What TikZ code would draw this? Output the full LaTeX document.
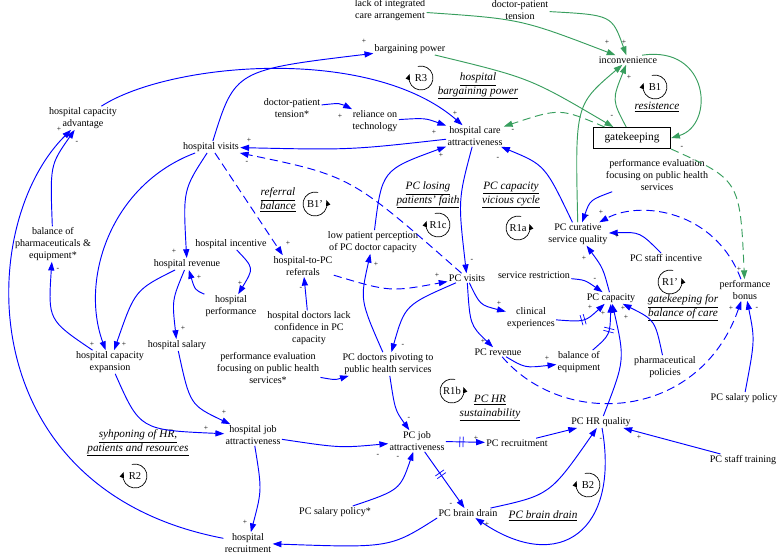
\documentclass[tikz,border=0pt]{standalone}
\usepackage{fontspec}
\setmainfont{Liberation Serif}
\usetikzlibrary{arrows.meta,decorations.markings}
\definecolor{cldblue}{RGB}{0,0,255}
\definecolor{cldgreen}{RGB}{56,158,94}
\tikzset{
  var/.style={align=center, inner sep=1pt, font=\fontsize{8.6}{10}\selectfont},
  ttl/.style={align=center, inner sep=1pt, font=\fontsize{9.6}{11.5}\selectfont\itshape},
  sgn/.style={inner sep=0pt, font=\fontsize{6.5}{7}\selectfont},
  lpnm/.style={inner sep=0pt, font=\fontsize{9}{10}\selectfont},
  lparr/.style={line width=0.6pt, -{Triangle[length=5pt,width=3.6pt]}},
  bl/.style={draw=cldblue, line width=0.8pt, -{Triangle[length=7.5pt,width=5.2pt]}},
  gr/.style={bl, draw=cldgreen},
  dsh/.style={dash pattern=on 7pt off 4pt},
  dly/.style={postaction={decorate, decoration={markings, mark=at position #1 with {\draw[cldblue, line width=0.6pt, solid, -] (-1.4pt,-4.5pt) -- (-1.4pt,4.5pt) (1.4pt,-4.5pt) -- (1.4pt,4.5pt);}}}},
  gkbox/.style={draw, line width=0.8pt, minimum width=66pt, minimum height=18pt, inner sep=2pt, font=\fontsize{9.7}{11}\selectfont}
}
\begin{document}
\begin{tikzpicture}[x=0.03cm, y=-0.03cm]
  \useasboundingbox (0,0) rectangle (778,556);

  % variables
  \node[var] (lack) at (390,10) {lack of integrated\\care arrangement};
  \node[var] (dpt) at (520,10) {doctor-patient\\tension};
  \node[var] (inc) at (628,60) {inconvenience};
  \node[gkbox] (gk) at (632,138) {gatekeeping};
  \node[var] (pef) at (657,175) {performance evaluation\\focusing on public health\\services};
  \node[var] (bp) at (410,49) {bargaining power};
  \node[var] (dpt2) at (292,108) {doctor-patient\\tension*};
  \node[var] (rel) at (375,121) {reliance on\\technology};
  \node[var] (hca) at (475,136) {hospital care\\attractiveness};
  \node[var] (hcadv) at (83,118) {hospital capacity\\advantage};
  \node[var] (hv) at (211,147) {hospital visits};
  \node[var] (bpe) at (53,244) {balance of\\pharmaceuticals \&\\equipment*};
  \node[var] (hrev) at (187,264) {hospital revenue};
  \node[var] (hinc) at (231,244) {hospital incentive};
  \node[var] (hperf) at (231,306) {hospital\\performance};
  \node[var] (hsal) at (177,345) {hospital salary};
  \node[var] (hexp) at (110,362) {hospital capacity\\expansion};
  \node[var] (ref) at (303,266) {hospital-to-PC\\referrals};
  \node[var] (lpp) at (373,242) {low patient perception\\of PC doctor capacity};
  \node[var] (pcv) at (467,278) {PC visits};
  \node[var] (hdl) at (309,328) {hospital doctors lack\\confidence in PC\\capacity};
  \node[var] (piv) at (388,364) {PC doctors pivoting to\\public health services};
  \node[var] (cur) at (578,234) {PC curative\\service quality};
  \node[var] (sinc) at (666,258) {PC staff incentive};
  \node[var] (sres) at (534,275) {service restriction};
  \node[var] (cap) at (611,298) {PC capacity};
  \node[var] (clin) at (531,318) {clinical\\experiences};
  \node[var] (prev) at (498,352) {PC revenue};
  \node[var] (beq) at (579,362) {balance of\\equipment};
  \node[var] (pharm) at (665,367) {pharmaceutical\\policies};
  \node[var] (bonus) at (745,290) {performance\\bonus};
  \node[var] (psal) at (744,398) {PC salary policy};
  \node[var] (hrq) at (601,422) {PC HR quality};
  \node[var] (train) at (743,460) {PC staff training};
  \node[var] (bd) at (468,513) {PC brain drain};
  \node[var] (psal2) at (335,512) {PC salary policy*};
  \node[var] (job) at (417,441) {PC job\\attractiveness};
  \node[var] (rec) at (517,443) {PC recruitment};
  \node[var] (pef2) at (268,368) {performance evaluation\\focusing on public health\\services*};
  \node[var] (hjob) at (253,435) {hospital job\\attractiveness};
  \node[var] (hrec) at (248,543) {hospital\\recruitment};

  % loop names
  \node[ttl] (tbp) at (478,86) {\underline{hospital}\\\underline{bargaining power}};
  \node[ttl] (tres) at (657,107) {\underline{resistence}};
  \node[ttl] (tref) at (278,200) {\underline{referral}\\\underline{balance}};
  \node[ttl] (tfaith) at (428,195) {\underline{PC losing}\\\underline{patients' faith}};
  \node[ttl] (tvic) at (511,195) {\underline{PC capacity}\\\underline{vicious cycle}};
  \node[ttl] (tgbc) at (683,308) {\underline{gatekeeping for}\\\underline{balance of care}};
  \node[ttl] (thr) at (490,408) {\underline{PC HR}\\\underline{sustainability}};
  \node[ttl] (tsyph) at (138,443) {\underline{syhponing of HR,}\\\underline{patients and resources}};
  \node[ttl] (tbd) at (543,516) {\underline{PC brain drain}};

  % loop markers
  \foreach \nm/\x/\y/\t/\a/\b in {R3/421/78/R3/-105/200, B1/655/87/B1/-105/200,
      B1p/315/204/B1'/-75/-380, R1c/438/225/R1c/-105/200, R1a/518/228/R1a/-75/-380,
      R1p/670/282/R1'/-75/-380, R1b/452/391/R1b/-75/-380, B2/588/485/B2/-105/200,
      R2/135/476/R2/-105/200} {
    \node[lpnm] (l\nm) at (\x,\y) {\t};
    \draw[lparr] ([shift={(\a:12)}]l\nm.center) arc[start angle=\a, end angle=\b, radius=12];
  }

  % green links
  \draw[gr] (lack) .. controls (521,19) .. (inc);
  \draw[gr] (dpt) .. controls (612,15) .. (inc);
  \draw[gr] (bp) .. controls (530,78) .. (gk);
  \draw[gr] (gk) .. controls (612,100) .. (inc);
  \draw[gr] (cur) .. controls (575,105) .. (inc);
  \draw[gr] ([xshift=12pt]inc.north) .. controls (710,45) and (715,125) .. (gk.east);
  \draw[gr, dsh] ([xshift=10pt]gk.north west) .. controls (560,108) .. (hca);
  \draw[gr, dsh] (gk.south east) .. controls (740,180) .. (bonus);

  % blue links
  \draw[bl] (hcadv) .. controls (170,62) and (370,45) .. (hca);
  \draw[bl] (hv) .. controls (235,70) .. (bp);
  \draw[bl] (dpt2) .. controls (340,103) .. (rel);
  \draw[bl] (rel) .. controls (425,118) .. (hca);
  \draw[bl] (hca) .. controls (350,150) .. (hv);
  \draw[bl, dsh] (pcv) .. controls (351,176) .. (hv);
  \draw[bl] (hca) .. controls (458,200) .. (pcv);
  \draw[bl] (hv) .. controls (183,190) .. (hrev);
  \draw[bl] (hv) .. controls (110,185) and (80,280) .. (hexp);
  \draw[bl] (hrev) .. controls (135,290) .. (hexp);
  \draw[bl] (hexp) .. controls (48,320) .. (bpe);
  \draw[bl] (bpe) .. controls (50,165) .. (hcadv);
  \draw[bl] (hrec) .. controls (-30,490) and (-25,225) .. (hcadv);
  \draw[bl] (hinc) .. controls (254,268) .. (hperf);
  \draw[bl] (hperf) .. controls (195,290) .. (hrev);
  \draw[bl] (hrev) .. controls (172,300) .. (hsal);
  \draw[bl] (hsal) .. controls (190,405) .. (hjob);
  \draw[bl] (hexp) .. controls (140,430) .. (hjob);
  \draw[bl] (hjob) .. controls (262,490) .. (hrec);
  \draw[bl] (hjob) .. controls (340,448) .. (job);
  \draw[bl] (bd.south west) .. controls (390,548) .. (hrec);
  \draw[bl] (psal2) .. controls (400,490) .. (job);
  \draw[bl] (piv) .. controls (395,410) .. (job);
  \draw[bl] (pef2) .. controls (335,380) .. (piv);
  \draw[bl, dly=0.4] (job) -- (rec);
  \draw[bl, dly=0.4] (job) -- (bd);
  \draw[bl] (rec) -- (hrq);
  \draw[bl] (bd) .. controls (550,495) .. (hrq);
  \draw[bl] (hrq) .. controls (620,530) and (560,575) .. (bd);
  \draw[bl] (train) -- (hrq);
  \draw[bl] (hrq) .. controls (625,360) .. (cap);
  \draw[bl, dly=0.5] (clin) .. controls (585,322) .. (cap);
  \draw[bl, dly=0.5] (beq) .. controls (610,335) .. (cap);
  \draw[bl] (pharm) .. controls (655,320) .. (cap);
  \draw[bl] (sres) .. controls (585,280) .. (cap);
  \draw[bl] (cap) .. controls (603,268) .. (cur);
  \draw[bl] (sinc) .. controls (640,232) .. (cur);
  \draw[bl] (pef) .. controls (590,200) .. (cur);
  \draw[bl, dsh] (bonus) .. controls (715,210) and (640,200) .. (cur);
  \draw[bl] (cur) .. controls (545,165) .. (hca);
  \draw[bl] (pcv) .. controls (405,305) .. (piv);
  \draw[bl] (piv) .. controls (360,300) .. (lpp);
  \draw[bl] (lpp) .. controls (382,170) .. (hca);
  \draw[bl, dsh] (hv) -- ([xshift=9pt]ref.north west);
  \draw[bl, dsh] (ref) .. controls (390,292) .. (pcv);
  \draw[bl] (hdl) -- (ref);
  \draw[bl] (pcv) .. controls (480,305) .. (clin);
  \draw[bl] (pcv) .. controls (470,325) .. (prev);
  \draw[bl] (prev) .. controls (525,368) .. (beq);
  \draw[bl, dsh] (prev) .. controls (565,430) and (700,420) .. (bonus);
  \draw[bl] (psal) .. controls (755,340) .. (bonus);

  % polarities
  \foreach \x/\y/\s [count=\i] in {607/42/+, 624/42/+, 612/116/-, 629/77/+, 682/147/-,
      513/130/-, 739/269/+, 455/113/+, 364/41/+, 340/116/+, 434/132/+, 249/140/+,
      247/162/-, 472/260/-, 174/251/+, 92/344/+, 124/344/+, 58/269/-, 77/142/-,
      59/129/+, 240/283/+, 199/277/+, 183/328/+, 224/412/+, 206/428/+, 245/522/+,
      378/455/-, 398/457/-, 409/418/-, 476/438/+, 451/504/-, 601/439/-, 487/524/+,
      639/437/+, 590/307/+, 603/313/+, 623/308/+, 626/317/+, 595/279/-, 584/258/+,
      617/236/+, 588/216/-, 601/212/+, 498/158/-, 403/345/-, 376/264/+, 441/155/+,
      288/243/+, 437/275/+, 301/288/-, 499/303/+, 483/341/+, 547/358/+, 731/308/+,
      757/308/-}
    \node[sgn] (s\i) at (\x,\y) {\s};
\end{tikzpicture}
\end{document}
